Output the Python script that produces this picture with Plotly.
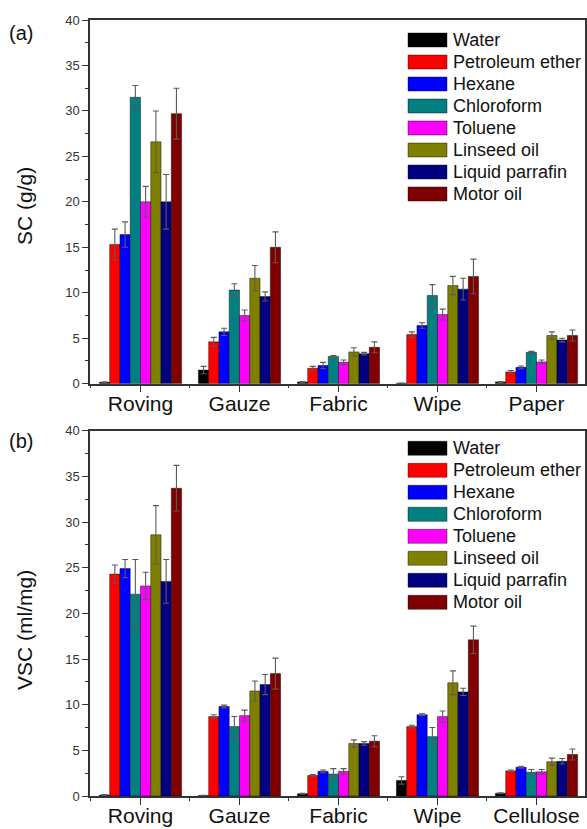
import plotly.graph_objects as go

# ---------------- data ----------------
categories_a = ["Roving", "Gauze", "Fabric", "Wipe", "Paper"]
categories_b = ["Roving", "Gauze", "Fabric", "Wipe", "Cellulose"]
solvents = ["Water", "Petroleum ether", "Hexane", "Chloroform", "Toluene",
            "Linseed oil", "Liquid parrafin", "Motor oil"]
colors = ["#000000", "#FF0000", "#0000FF", "#008080", "#FF00FF",
          "#808000", "#000080", "#800000"]

# (a) SC (g/g): rows = solvents, columns = categories_a
sc_mean = [
    [0.15, 1.5, 0.2, 0.05, 0.2],
    [15.3, 4.6, 1.7, 5.4, 1.3],
    [16.4, 5.7, 2.0, 6.4, 1.8],
    [31.5, 10.3, 3.0, 9.7, 3.45],
    [20.0, 7.5, 2.35, 7.6, 2.4],
    [26.6, 11.6, 3.5, 10.8, 5.3],
    [20.0, 9.6, 3.3, 10.4, 4.8],
    [29.7, 15.0, 4.0, 11.8, 5.3],
]
sc_err = [
    [0.05, 0.4, 0.05, 0.02, 0.05],
    [1.7, 0.5, 0.2, 0.3, 0.15],
    [1.4, 0.4, 0.35, 0.3, 0.15],
    [1.3, 0.7, 0.1, 1.2, 0.1],
    [1.7, 0.6, 0.25, 0.6, 0.2],
    [3.4, 1.4, 0.45, 1.0, 0.4],
    [3.0, 0.5, 0.15, 1.2, 0.2],
    [2.8, 1.7, 0.6, 1.9, 0.6],
]
# (b) VSC (ml/mg): rows = solvents, columns = categories_b
vsc_mean = [
    [0.1, 0.05, 0.25, 1.7, 0.3],
    [24.3, 8.7, 2.25, 7.6, 2.75],
    [24.9, 9.8, 2.7, 8.9, 3.15],
    [22.1, 7.6, 2.4, 6.5, 2.6],
    [23.0, 8.8, 2.7, 8.7, 2.65],
    [28.6, 11.5, 5.75, 12.4, 3.75],
    [23.5, 12.2, 5.75, 11.4, 3.8],
    [33.7, 13.4, 6.0, 17.1, 4.55],
]
vsc_err = [
    [0.05, 0.02, 0.05, 0.4, 0.05],
    [1.0, 0.2, 0.1, 0.15, 0.1],
    [1.0, 0.15, 0.15, 0.1, 0.1],
    [3.8, 1.1, 0.6, 1.0, 0.3],
    [1.5, 0.6, 0.3, 0.6, 0.25],
    [3.2, 1.1, 0.4, 1.3, 0.4],
    [2.4, 1.1, 0.2, 0.4, 0.3],
    [2.5, 1.7, 0.6, 1.5, 0.6],
]
y_ticks = [0, 5, 10, 15, 20, 25, 30, 35, 40]

# ---------------- layout geometry (pixels) ----------------
W, H = 587, 829
ML, MR, MT, MB = 90, 2, 20, 33
PW, PH = W - ML - MR, H - MT - MB


def py(p):  # pixel y -> paper
    return (H - MB - p) / PH


def pxx(p):  # pixel x -> paper
    return (p - ML) / PW


FONT = "Arial, Liberation Sans, sans-serif"
fig = go.Figure()

xpos = list(range(len(categories_a)))
for i, name in enumerate(solvents):
    for (mean, err, xa, ya) in [(sc_mean, sc_err, "x", "y"),
                                (vsc_mean, vsc_err, "x2", "y2")]:
        fig.add_trace(go.Bar(
            x=xpos, y=mean[i], name=name, xaxis=xa, yaxis=ya,
            marker=dict(color=colors[i], line=dict(color="rgba(0,0,0,0.55)", width=0.8)),
            error_y=dict(type="data", array=err[i], visible=True,
                         color="#5a5a5a", thickness=1.1, width=3),
            showlegend=False, offsetgroup=str(i),
        ))

axis_line = dict(showline=True, linecolor="#333333", linewidth=1.5, mirror=True,
                 showgrid=False, zeroline=False, automargin=False)
xcommon = dict(range=[-0.51, 4.49], tickmode="array", tickvals=xpos,
               ticks="outside", ticklen=7, tickcolor="#333333", tickwidth=1.2,
               ticklabelstandoff=-7,
               tickfont=dict(family=FONT, size=21, color="#111111"),
               minor=dict(tickmode="array", tickvals=[-0.5, 0.5, 1.5, 2.5, 3.5, 4.5],
                          ticks="outside", ticklen=3, tickcolor="#333333"),
               **axis_line)
ycommon = dict(range=[0, 40], tickmode="array", tickvals=y_ticks,
               ticks="outside", ticklen=6, tickcolor="#333333", tickwidth=1.2,
               tickfont=dict(family=FONT, size=13, color="#333333"),
               minor=dict(dtick=2.5, ticks="outside", ticklen=3, tickcolor="#333333"),
               **axis_line)

top_a, bot_a = 20, 383.7
top_b, bot_b = 430.7, 796
fig.update_layout(
    width=W, height=H, autosize=False,
    margin=dict(l=ML, r=MR, t=MT, b=MB, autoexpand=False),
    paper_bgcolor="white", plot_bgcolor="white",
    barmode="group", bargap=0.17, bargroupgap=0,
    xaxis=dict(anchor="y", ticktext=categories_a, **xcommon),
    yaxis=dict(anchor="x", domain=[py(bot_a), py(top_a)], **ycommon),
    xaxis2=dict(anchor="y2", ticktext=categories_b, **xcommon),
    yaxis2=dict(anchor="x2", domain=[py(bot_b), py(top_b)], **ycommon),
    font=dict(family=FONT),
)

# axis titles and panel labels
annots = [
    dict(text="SC (g/g)", x=pxx(24), y=py(206), textangle=-90, size=21),
    dict(text="VSC (ml/mg)", x=pxx(24), y=py(630), textangle=-90, size=21),
    dict(text="(a)", x=pxx(21), y=py(33), textangle=0, size=20),
    dict(text="(b)", x=pxx(21), y=py(441), textangle=0, size=20),
]
for a in annots:
    fig.add_annotation(text=a["text"], x=a["x"], y=a["y"], xref="paper", yref="paper",
                       textangle=a["textangle"], showarrow=False,
                       xanchor="center", yanchor="middle",
                       font=dict(family=FONT, size=a["size"], color="#111111"))

# custom legends (wide colour swatches like the original)
for y0 in (40, 448.3):
    for i, name in enumerate(solvents):
        yc = y0 + i * 22.0
        fig.add_shape(type="rect", xref="paper", yref="paper",
                      x0=pxx(408), x1=pxx(447), y0=py(yc + 7), y1=py(yc - 7),
                      fillcolor=colors[i], line=dict(color="rgba(0,0,0,0.5)", width=0.8))
        fig.add_annotation(text=name, x=pxx(451), y=py(yc), xref="paper", yref="paper",
                           showarrow=False, xanchor="left", yanchor="middle",
                           font=dict(family=FONT, size=18, color="#111111"))

fig.write_html(
    "out.html",
    config={"displayModeBar": False},
    post_script="document.body.style.margin='0';document.body.style.overflow='hidden';",
)
